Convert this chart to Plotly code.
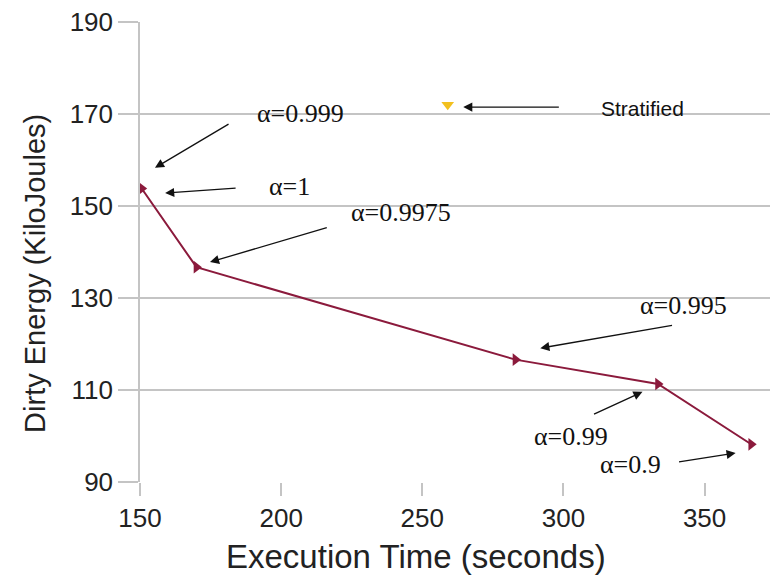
import plotly.graph_objects as go

# ---- data ----
alpha_labels = ["α=0.999", "α=1", "α=0.9975", "α=0.995", "α=0.99", "α=0.9"]
exec_time = [149.3, 150.6, 170.0, 283.0, 333.5, 366.5]
dirty_energy = [155.2, 153.8, 136.7, 116.6, 111.3, 98.2]

strat_label = ["Stratified"]
strat_time = [259.0]
strat_energy = [172.0]

x_ticks = [150, 200, 250, 300, 350]
y_ticks = [90, 110, 130, 150, 170, 190]

x_title = "Execution Time (seconds)"
y_title = "Dirty Energy (KiloJoules)"

# annotation layout
notes_text = alpha_labels + strat_label
notes_text_pos = [(206.7, 170.2), (202.8, 154.3), (242.6, 148.5), (342.6, 128.3),
                  (302.8, 100.0), (323.8, 93.7), (328.0, 171.3)]
arrow_tail = [(181.9, 168.0), (184.4, 153.9), (216.7, 145.4), (339.0, 124.1),
              (310.3, 104.6), (340.4, 94.3), (298.9, 171.5)]
arrow_head = [(155.3, 158.3), (158.9, 152.8), (174.8, 137.8), (291.8, 119.1),
              (328.0, 109.6), (361.0, 96.3), (264.5, 171.5)]

fig = go.Figure()
fig.add_trace(go.Scatter(
    x=exec_time, y=dirty_energy, mode="lines+markers",
    line=dict(color="#8B1A3C", width=2),
    marker=dict(symbol="triangle-right", size=11, color="#8B1A3C"),
    showlegend=False, cliponaxis=False))
fig.add_trace(go.Scatter(
    x=strat_time, y=strat_energy, mode="markers",
    marker=dict(symbol="triangle-down", size=11, color="#F2C01E"),
    showlegend=False))

annotations = []
for i, t in enumerate(notes_text):
    annotations.append(dict(
        x=arrow_head[i][0], y=arrow_head[i][1], ax=arrow_tail[i][0], ay=arrow_tail[i][1],
        xref="x", yref="y", axref="x", ayref="y", text="", showarrow=True,
        arrowhead=2, arrowsize=1.4, arrowwidth=1.3, arrowcolor="#111"))
    is_strat = t == "Stratified"
    annotations.append(dict(
        x=notes_text_pos[i][0], y=notes_text_pos[i][1], xref="x", yref="y",
        text=t, showarrow=False,
        font=dict(family="Liberation Sans" if is_strat else "Liberation Serif",
                  size=21 if is_strat else 26, color="#111")))

# axis titles as paper annotations for exact placement
annotations.append(dict(text=x_title, xref="paper", yref="paper", x=0.433, y=-0.162,
                        xanchor="center", yanchor="middle", showarrow=False,
                        font=dict(family="Liberation Sans", size=33, color="#222")))
annotations.append(dict(text=y_title, xref="paper", yref="paper", x=-0.165, y=0.454,
                        xanchor="center", yanchor="middle", showarrow=False, textangle=-90,
                        font=dict(family="Liberation Sans", size=29, color="#222")))

fig.update_layout(
    width=770, height=572,
    margin=dict(l=132, r=0, t=14, b=98),
    paper_bgcolor="white", plot_bgcolor="white",
    annotations=annotations,
    xaxis=dict(range=[150, 376], tickvals=x_ticks, showgrid=False, zeroline=False,
               showline=False, ticks="outside", ticklen=13, tickcolor="#c4c4c4", tickwidth=1.5,
               automargin=False, ticklabeloverflow="allow",
               tickfont=dict(family="Liberation Sans", size=26, color="#222")),
    yaxis=dict(range=[90, 190], tickvals=y_ticks, showgrid=True, gridcolor="#c4c4c4", gridwidth=1.5,
               zeroline=False, showline=True, linecolor="#c4c4c4", linewidth=1.5,
               ticks="outside", ticklen=20, tickcolor="#c4c4c4", tickwidth=1.5,
               automargin=False, ticklabeloverflow="allow",
               tickfont=dict(family="Liberation Sans", size=26, color="#222")),
)

fig.write_html("out.html")
